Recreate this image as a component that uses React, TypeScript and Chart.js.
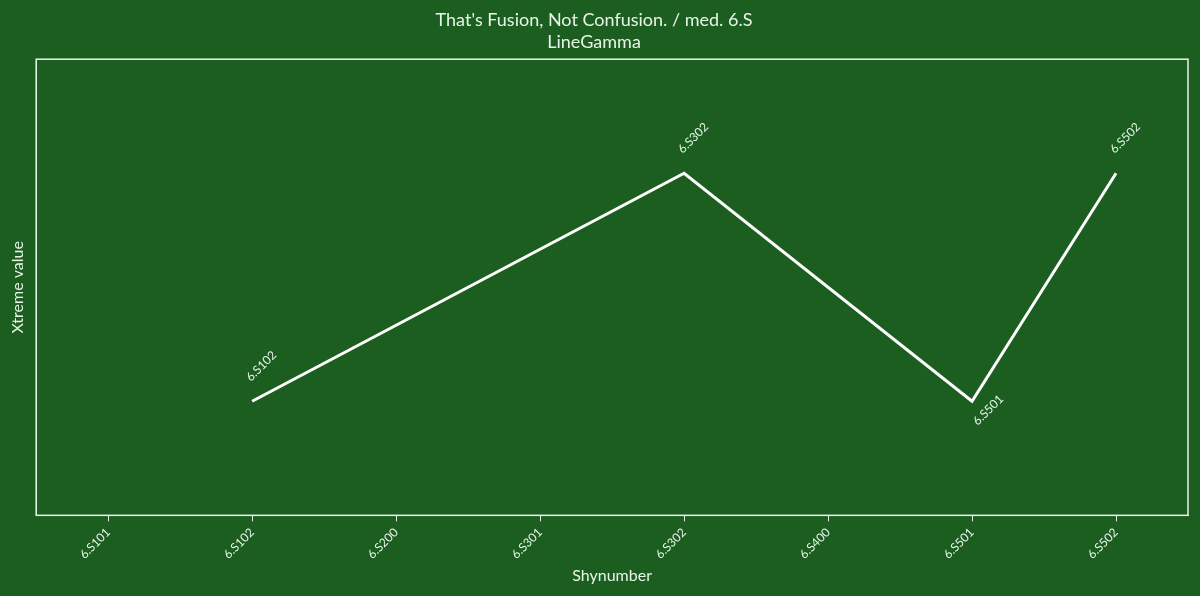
import { useEffect, useRef } from "react"
import { Chart, registerables } from "chart.js"

Chart.register(...registerables)

// chart data
const courses = ["6.S101", "6.S102", "6.S200", "6.S301", "6.S302", "6.S400", "6.S501", "6.S502"]
const xtremeValues: (number | null)[] = [null, 1, null, null, 2, null, 1, 2]

const BG = "#1b5e20"
const FG = "#e8f5e9"
const FONT = "Lato, 'Noto Sans', sans-serif"

// draws the box round the plot area
const frame = {
  id: "frame",
  afterDraw(chart: Chart) {
    const { ctx, chartArea } = chart
    ctx.save()
    ctx.strokeStyle = FG
    ctx.lineWidth = 1.5
    ctx.strokeRect(chartArea.left, chartArea.top, chartArea.right - chartArea.left, chartArea.bottom - chartArea.top)
    ctx.restore()
  },
}

// slanted labels next to each point, under the point when it is a dip
const pointLabels = {
  id: "pointLabels",
  afterDatasetsDraw(chart: Chart) {
    const { ctx } = chart
    const meta = chart.getDatasetMeta(0)
    const vals = chart.data.datasets[0].data as (number | null)[]
    const present = vals.map((v, i) => (v == null ? -1 : i)).filter((i) => i >= 0)
    ctx.save()
    ctx.fillStyle = FG
    ctx.font = `12px ${FONT}`
    ctx.textAlign = "left"
    ctx.textBaseline = "middle"
    present.forEach((i, k) => {
      const v = vals[i] as number
      const prev = k > 0 ? (vals[present[k - 1]] as number) : null
      const next = k < present.length - 1 ? (vals[present[k + 1]] as number) : null
      const dip = prev != null && next != null && v < prev && v < next
      const pt = meta.data[i]
      const x = dip ? pt.x + 3 : pt.x - 4
      const y = dip ? pt.y + 22 : pt.y - 22
      ctx.save()
      ctx.translate(x, y)
      ctx.rotate(-Math.PI / 4)
      ctx.fillText(String(chart.data.labels![i]), 0, 0)
      ctx.restore()
    })
    ctx.restore()
  },
}

export default function App() {
  const canvasRef = useRef<HTMLCanvasElement>(null)

  useEffect(() => {
    document.body.style.margin = "0"
    if (!canvasRef.current) return
    const chart = new Chart(canvasRef.current, {
      type: "line",
      data: {
        labels: courses,
        datasets: [
          {
            label: "LineGamma",
            data: xtremeValues,
            borderColor: "#ffffff",
            borderWidth: 3,
            pointRadius: 0,
            spanGaps: true,
            tension: 0,
          },
        ],
      },
      options: {
        animation: false,
        responsive: true,
        maintainAspectRatio: false,
        layout: { padding: { left: 0, right: 12, top: 4, bottom: 7 } },
        plugins: {
          legend: { display: false },
          tooltip: { enabled: false },
          title: {
            display: true,
            text: "That's Fusion, Not Confusion. / med. 6.S",
            color: FG,
            font: { family: FONT, size: 18, weight: "normal" },
            padding: { top: 5, bottom: 0 },
          },
          subtitle: {
            display: true,
            text: "LineGamma",
            color: FG,
            font: { family: FONT, size: 18, weight: "normal" },
            padding: { top: 1, bottom: 6 },
          },
        },
        scales: {
          x: {
            offset: true,
            grid: { display: true, drawOnChartArea: false, drawTicks: true, tickLength: 6, color: FG },
            border: { display: true, color: FG },
            ticks: { color: FG, font: { family: FONT, size: 12 }, maxRotation: 45, minRotation: 45, padding: 4 },
            title: { display: true, text: "Shynumber", color: FG, font: { family: FONT, size: 16 }, padding: { top: 0 } },
          },
          y: {
            min: 0.5,
            max: 2.5,
            grid: { display: false },
            border: { display: true, color: FG },
            ticks: { display: false },
            title: { display: true, text: "Xtreme value", color: FG, font: { family: FONT, size: 16 }, padding: { top: 8, bottom: 1 } },
          },
        },
      },
      plugins: [frame, pointLabels],
    })
    return () => chart.destroy()
  }, [])

  return (
    <div style={{ width: 1200, height: 596, background: BG, position: "relative" }}>
      <canvas ref={canvasRef} />
    </div>
  )
}
